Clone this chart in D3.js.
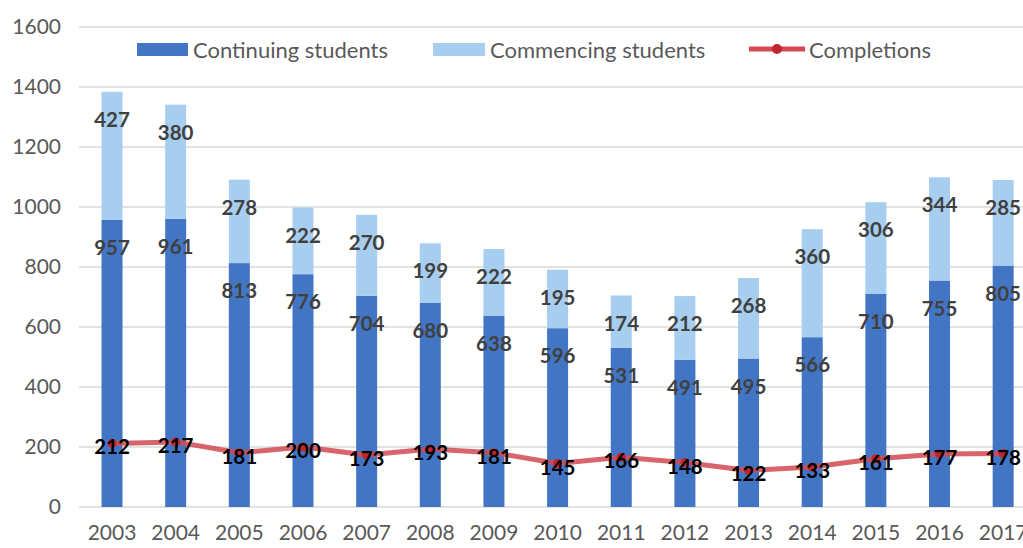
<!DOCTYPE html>
<html><head><meta charset="utf-8">
<script src="https://cdn.jsdelivr.net/npm/d3@7"></script>
<style>body{margin:0;background:#fff;} svg{display:block;font-family:Lato, "Open Sans", sans-serif;}</style>
</head><body>
<svg id="c" width="1023" height="548"></svg>
<script>
const years = ["2003","2004","2005","2006","2007","2008","2009","2010","2011","2012","2013","2014","2015","2016","2017"];
const continuing = [957,961,813,776,704,680,638,596,531,491,495,566,710,755,805];
const commencing = [427,380,278,222,270,199,222,195,174,212,268,360,306,344,285];
const completions = [212,217,181,200,173,193,181,145,166,148,122,133,161,177,178];
const yTicks = [0,200,400,600,800,1000,1200,1400,1600];

const svg = d3.select("#c");
const x = d3.scaleBand().domain(years).range([80.2, 1035]).paddingInner(0.67).paddingOuter(0.335);
const y = d3.scaleLinear().domain([0,1600]).range([507,27]);

// grid
svg.append("g").selectAll("line").data(yTicks).join("line")
  .attr("x1",79).attr("x2",1023).attr("y1",d=>y(d)).attr("y2",d=>y(d))
  .attr("stroke","#d9d9d9").attr("stroke-width",1.3);

// y axis labels
const yAxis = d3.axisLeft(y).tickValues(yTicks).tickFormat(d3.format("d")).tickSize(0).tickPadding(0);
const gy = svg.append("g").attr("transform","translate(61,0)").call(yAxis);
gy.select(".domain").remove();
gy.selectAll("text").attr("font-size",21).attr("fill","#595959").attr("font-family","Lato, sans-serif");

// x axis labels
const xAxis = d3.axisBottom(x).tickSize(0).tickPadding(0);
const gx = svg.append("g").attr("transform","translate(0,525)").call(xAxis);
gx.select(".domain").remove();
gx.selectAll("text").attr("font-size",21).attr("fill","#595959").attr("font-family","Lato, sans-serif");

const cont = "#4276C4", comm = "#A7CDEF", red = "#D24A52";

// bars
svg.append("g").selectAll("rect").data(years).join("rect")
  .attr("x",d=>x(d)).attr("width",x.bandwidth())
  .attr("y",(d,i)=>y(continuing[i])).attr("height",(d,i)=>y(0)-y(continuing[i]))
  .attr("fill",cont);
svg.append("g").selectAll("rect").data(years).join("rect")
  .attr("x",d=>x(d)).attr("width",x.bandwidth())
  .attr("y",(d,i)=>y(continuing[i]+commencing[i])).attr("height",(d,i)=>y(continuing[i])-y(continuing[i]+commencing[i]))
  .attr("fill",comm);

// line
const cx = d=>x(d)+x.bandwidth()/2;
svg.append("path").datum(years)
  .attr("d", d3.line().x(cx).y((d,i)=>y(completions[i])))
  .attr("fill","none").attr("stroke",red).attr("stroke-opacity",0.85).attr("stroke-width",5).attr("stroke-linejoin","round");
svg.append("g").selectAll("circle").data(years).join("circle")
  .attr("cx",cx).attr("cy",(d,i)=>y(completions[i])).attr("r",4.5).attr("fill","#C0262D");

// labels
const lab = svg.append("g").attr("font-size",20.5).attr("font-weight","bold").attr("text-anchor","middle").attr("dominant-baseline","central");
lab.selectAll(".lc").data(years).join("text").attr("class","lc")
  .attr("x",cx).attr("y",(d,i)=>y(continuing[i])+27).attr("fill","#404040").text((d,i)=>continuing[i]);
lab.selectAll(".lm").data(years).join("text").attr("class","lm")
  .attr("x",cx).attr("y",(d,i)=>y(continuing[i]+commencing[i])+27).attr("fill","#404040").text((d,i)=>commencing[i]);
lab.selectAll(".lp").data(years).join("text").attr("class","lp")
  .attr("x",cx).attr("y",(d,i)=>y(completions[i])+3).attr("fill","#000").text((d,i)=>completions[i]);

// legend
const lg = svg.append("g").attr("font-size",22).attr("fill","#595959");
lg.append("rect").attr("x",137).attr("y",43).attr("width",51).attr("height",13).attr("fill",cont);
lg.append("text").attr("x",193).attr("y",49).attr("dominant-baseline","central").attr("fill","#595959").text("Continuing students");
lg.append("rect").attr("x",433).attr("y",43).attr("width",52).attr("height",13).attr("fill",comm);
lg.append("text").attr("x",490).attr("y",49).attr("dominant-baseline","central").attr("fill","#595959").text("Commencing students");
lg.append("line").attr("x1",749).attr("x2",805).attr("y1",49).attr("y2",49).attr("stroke",red).attr("stroke-width",5);
lg.append("circle").attr("cx",777).attr("cy",49).attr("r",5).attr("fill","#C0262D");
lg.append("text").attr("x",809).attr("y",49).attr("dominant-baseline","central").attr("fill","#595959").text("Completions");
</script>
</body></html>
